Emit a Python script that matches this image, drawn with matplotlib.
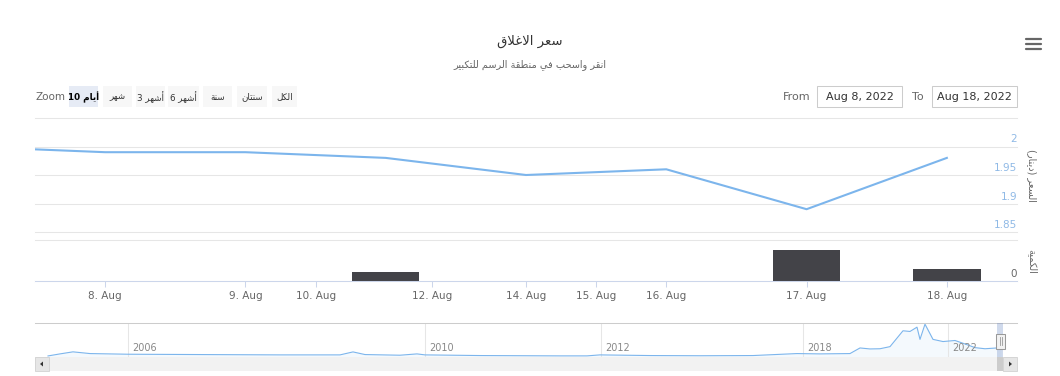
import numpy as np
import matplotlib
matplotlib.use("Agg")
import matplotlib.pyplot as plt
import matplotlib.transforms as mtransforms
from matplotlib.patches import Rectangle, Polygon
from matplotlib.lines import Line2D

W, H = 1060, 376

# --- Data (August 2022, ordinal axis: only trading days get a slot) ---
days = [7, 8, 9, 11, 14, 16, 17, 18]          # first one sits just off the left edge
price = [2.00, 1.99, 1.99, 1.98, 1.95, 1.96, 1.89, 1.98]
volume = [0, 0, 0, 8800, 0, 0, 30500, 11800]
tick_days = [8, 9, 10, 12, 14, 15, 16, 17, 18]
price_ticks = [1.85, 1.9, 1.95, 2.0, 2.05]
volume_ticks = [0, 40000]

# navigator (whole history, ordinal index 0..98)
nav_pos = [1.3, 2.5, 3.8, 5.5, 9.3, 16.5, 24.5, 30.5, 31.8, 33.0, 36.5, 38.2, 39.0,
           44.5, 52.5, 55.2, 56.5, 61.5, 66.5, 71.8, 76.2, 78.5, 81.5, 82.5, 83.5,
           84.5, 85.5, 86.8, 87.5, 88.2, 88.5, 89.0, 89.8, 90.8, 92.0, 93.2, 94.0,
           95.0, 96.2, 96.6]
nav_val = [0.89, 1.2, 1.51, 1.25, 1.15, 1.1, 1.05, 1.05, 1.5, 1.1, 1.0, 1.2, 1.05,
           0.95, 0.9, 0.9, 1.05, 0.95, 0.92, 0.95, 1.25, 1.2, 1.25, 2.1, 1.95,
           1.98, 2.3, 4.7, 4.6, 5.25, 3.4, 5.7, 3.4, 3.07, 3.23, 2.6, 2.15,
           1.98, 2.1, 1.98]
nav_years = ['2006', '2010', '2012', '2018', '2022']
nav_year_pos = [9.3, 39.0, 56.6, 76.8, 91.3]

# --- Minimal Arabic shaping (matplotlib does no shaping / bidi) ---
ISOL = {'ا': 0xFE8D, 'أ': 0xFE83, 'إ': 0xFE87, 'آ': 0xFE81, 'ب': 0xFE8F, 'ة': 0xFE93,
        'ت': 0xFE95, 'ث': 0xFE99, 'ج': 0xFE9D, 'ح': 0xFEA1, 'خ': 0xFEA5, 'د': 0xFEA9,
        'ذ': 0xFEAB, 'ر': 0xFEAD, 'ز': 0xFEAF, 'س': 0xFEB1, 'ش': 0xFEB5, 'ص': 0xFEB9,
        'ض': 0xFEBD, 'ط': 0xFEC1, 'ظ': 0xFEC5, 'ع': 0xFEC9, 'غ': 0xFECD, 'ف': 0xFED1,
        'ق': 0xFED5, 'ك': 0xFED9, 'ل': 0xFEDD, 'م': 0xFEE1, 'ن': 0xFEE5, 'ه': 0xFEE9,
        'و': 0xFEED, 'ى': 0xFEEF, 'ي': 0xFEF1}
DUAL = set('بتثجحخسشصضطظعغفقكلمنهي')
LAMALEF = {'ا': 0xFEFB, 'أ': 0xFEF7, 'إ': 0xFEF9, 'آ': 0xFEF5}
MIRROR = {'(': ')', ')': '('}


def ar(text):
    """Shape Arabic letters into presentation forms and return visual order."""
    out = []
    i, n = 0, len(text)
    while i < n:
        c = text[i]
        if c not in ISOL:
            out.append(MIRROR.get(c, c))
            i += 1
            continue
        link_prev = i > 0 and text[i - 1] in DUAL
        if c == 'ل' and i + 1 < n and text[i + 1] in LAMALEF:
            cp = LAMALEF[text[i + 1]]
            out.append(chr(cp + 1 if link_prev else cp))
            i += 2
            continue
        link_next = c in DUAL and i + 1 < n and text[i + 1] in ISOL
        base = ISOL[c]
        if link_prev and link_next:
            cp = base + 3
        elif link_next:
            cp = base + 2
        elif link_prev:
            cp = base + 1
        else:
            cp = base
        out.append(chr(cp))
        i += 1
    return ''.join(out[::-1])


def rect(x0, y0, x1, y1):
    return [x0 / W, 1 - y1 / H, (x1 - x0) / W, (y1 - y0) / H]


def fx(x):
    return x / W


def fy(y):
    return 1 - y / H


plt.rcParams['font.family'] = ['DejaVu Sans']

fig = plt.figure(figsize=(W / 100, H / 100), dpi=100)
fig.patch.set_facecolor('white')

x = np.arange(len(days)) - 1
tick_x = np.interp(tick_days, days, x)

# --- Price pane ---
ax1 = fig.add_axes(rect(35, 118, 1017, 232))
ax1.plot(x, price, color='#7cb5ec', lw=1.5, solid_joinstyle='round')
ax1.set_xlim(-0.5, 6.5)
ax1.set_ylim(price_ticks[0], price_ticks[-1])
ax1.set_yticks(price_ticks)
ax1.set_xticks([])
ax1.yaxis.grid(True, color='#e6e6e6', lw=0.75)
for gl in ax1.get_ygridlines():
    gl.set_clip_on(False)
ax1.tick_params(length=0, labelleft=False, labelbottom=False)
for s in ax1.spines.values():
    s.set_visible(False)
lab_tr = mtransforms.offset_copy(ax1.get_yaxis_transform(), fig=fig, y=2, units='dots')
for v in price_ticks[:-1]:
    ax1.text(1.0, v, f'{v:g}', transform=lab_tr, ha='right', va='bottom',
             fontsize=7.5, color='#8fb9e6')

# --- Volume pane ---
ax2 = fig.add_axes(rect(35, 240, 1017, 281))
ax2.bar(x, volume, width=0.48, color='#434348', lw=0)
ax2.set_xlim(-0.5, 6.5)
ax2.set_ylim(volume_ticks[0], volume_ticks[-1])
ax2.set_yticks(volume_ticks)
ax2.yaxis.grid(True, color='#e6e6e6', lw=0.75)
for gl in ax2.get_ygridlines():
    gl.set_clip_on(False)
ax2.set_axisbelow(True)
ax2.tick_params(axis='y', length=0, labelleft=False)
for s in ['top', 'left', 'right']:
    ax2.spines[s].set_visible(False)
ax2.spines['bottom'].set_color('#ccd6eb')
ax2.spines['bottom'].set_linewidth(0.75)
ax2.set_xticks(tick_x)
ax2.set_xticklabels([f'{d}. Aug' for d in tick_days])
ax2.tick_params(axis='x', length=4, width=0.75, color='#ccd6eb', labelcolor='#666666',
                labelsize=7.5, pad=3)
lab_tr2 = mtransforms.offset_copy(ax2.get_yaxis_transform(), fig=fig, y=2, units='dots')
ax2.text(1.0, 0, '0', transform=lab_tr2, ha='right', va='bottom', fontsize=7.5,
         color='#666666')

# axis titles (opposite side, rotated)
fig.text(fx(1032), fy(175), ar('السعر (دينار)'), rotation=270, ha='center', va='center',
         fontsize=7, color='#666666')
fig.text(fx(1032), fy(261), ar('الكمية'), rotation=270, ha='center', va='center',
         fontsize=7, color='#666666')

# --- Titles ---
fig.text(fx(530), fy(41), ar('سعر الاغلاق'), ha='center', va='center', fontsize=9.5,
         color='#333333')
fig.text(fx(530), fy(65), ar('انقر واسحب في منطقة الرسم للتكبير'), ha='center',
         va='center', fontsize=7, color='#666666')

# hamburger menu
for yy in [39, 44, 49]:
    fig.add_artist(Line2D([fx(1026), fx(1041)], [fy(yy), fy(yy)], color='#666666',
                          lw=1.6, solid_capstyle='round'))

# --- Range selector ---
fig.text(fx(35), fy(97), 'Zoom', ha='left', va='center', fontsize=7.5, color='#666666')
buttons = ['10 ' + ar('أيام'), ar('شهر'), '3 ' + ar('أشهر'), '6 ' + ar('أشهر'),
           ar('سنة'), ar('سنتان'), ar('الكل')]
button_x = [(69, 98), (103, 132), (136, 165), (168, 199), (203, 232), (237, 267), (272, 297)]
for i, (label, (bx0, bx1)) in enumerate(zip(buttons, button_x)):
    sel = i == 0
    fig.add_artist(Rectangle((fx(bx0), fy(107)), (bx1 - bx0) / W, 21 / H,
                             transform=fig.transFigure,
                             facecolor='#e6ebf5' if sel else '#f7f7f7', edgecolor='none'))
    fig.text(fx((bx0 + bx1) / 2), fy(97), label, ha='center', va='center',
             fontsize=6.3, color='#000000' if sel else '#333333',
             fontweight='bold' if sel else 'normal')

# From / To inputs
fig.text(fx(783), fy(97), 'From', ha='left', va='center', fontsize=8, color='#666666')
fig.text(fx(912), fy(97), 'To', ha='left', va='center', fontsize=8, color='#666666')
for (bx0, bx1), txt in [((817, 902), 'Aug 8, 2022'), ((932, 1017), 'Aug 18, 2022')]:
    fig.add_artist(Rectangle((fx(bx0), fy(107)), (bx1 - bx0) / W, 21 / H,
                             transform=fig.transFigure, facecolor='white',
                             edgecolor='#cccccc', lw=0.75))
    fig.text(fx((bx0 + bx1) / 2), fy(97), txt, ha='center', va='center', fontsize=8,
             color='#333333')

# --- Navigator ---
axn = fig.add_axes(rect(35, 323, 1017, 357))
axn.plot(nav_pos, nav_val, color='#7cb5ec', lw=0.8)
axn.fill_between(nav_pos, nav_val, 0, color='#7cb5ec', alpha=0.08, lw=0)
axn.set_xlim(0, 98.2)
axn.set_ylim(0.73, 5.88)
axn.set_yticks([])
axn.set_xticks(nav_year_pos)
axn.xaxis.grid(True, color='#e6e6e6', lw=0.75)
axn.tick_params(axis='x', length=0, labelbottom=False)
for s in ['left', 'right', 'bottom']:
    axn.spines[s].set_visible(False)
axn.spines['top'].set_color('#cccccc')
axn.spines['top'].set_linewidth(0.75)
for yp, yl in zip(nav_year_pos, nav_years):
    axn.text(yp + 0.4, 0.13, yl, transform=axn.get_xaxis_transform(), ha='left',
             va='bottom', fontsize=7, color='#888888')
# selected range mask + handle
fig.add_artist(Rectangle((fx(997), fy(357)), 6 / W, 34 / H, transform=fig.transFigure,
                         facecolor=(102 / 255, 133 / 255, 194 / 255, 0.3), edgecolor='none'))
fig.add_artist(Rectangle((fx(996), fy(349)), 9 / W, 15 / H, transform=fig.transFigure,
                         facecolor='#f2f2f2', edgecolor='#999999', lw=0.75))
for hx in [999.5, 1001.5]:
    fig.add_artist(Line2D([fx(hx), fx(hx)], [fy(345), fy(337)], color='#999999', lw=0.6))

# scrollbar
fig.add_artist(Rectangle((fx(35), fy(371)), 982 / W, 14 / H, transform=fig.transFigure,
                         facecolor='#f2f2f2', edgecolor='none'))
fig.add_artist(Rectangle((fx(35), fy(371)), 14 / W, 14 / H, transform=fig.transFigure,
                         facecolor='#e6e6e6', edgecolor='#cccccc', lw=0.5))
fig.add_artist(Rectangle((fx(997), fy(371)), 6 / W, 14 / H, transform=fig.transFigure,
                         facecolor='#cccccc', edgecolor='none'))
fig.add_artist(Rectangle((fx(1003), fy(371)), 14 / W, 14 / H, transform=fig.transFigure,
                         facecolor='#e6e6e6', edgecolor='#cccccc', lw=0.5))
fig.add_artist(Polygon([(fx(40), fy(364)), (fx(43), fy(361.5)), (fx(43), fy(366.5))],
                       closed=True, transform=fig.transFigure, facecolor='#333333',
                       edgecolor='none'))
fig.add_artist(Polygon([(fx(1012), fy(364)), (fx(1009), fy(361.5)), (fx(1009), fy(366.5))],
                       closed=True, transform=fig.transFigure, facecolor='#333333',
                       edgecolor='none'))

fig.savefig('out.png', dpi=100)
